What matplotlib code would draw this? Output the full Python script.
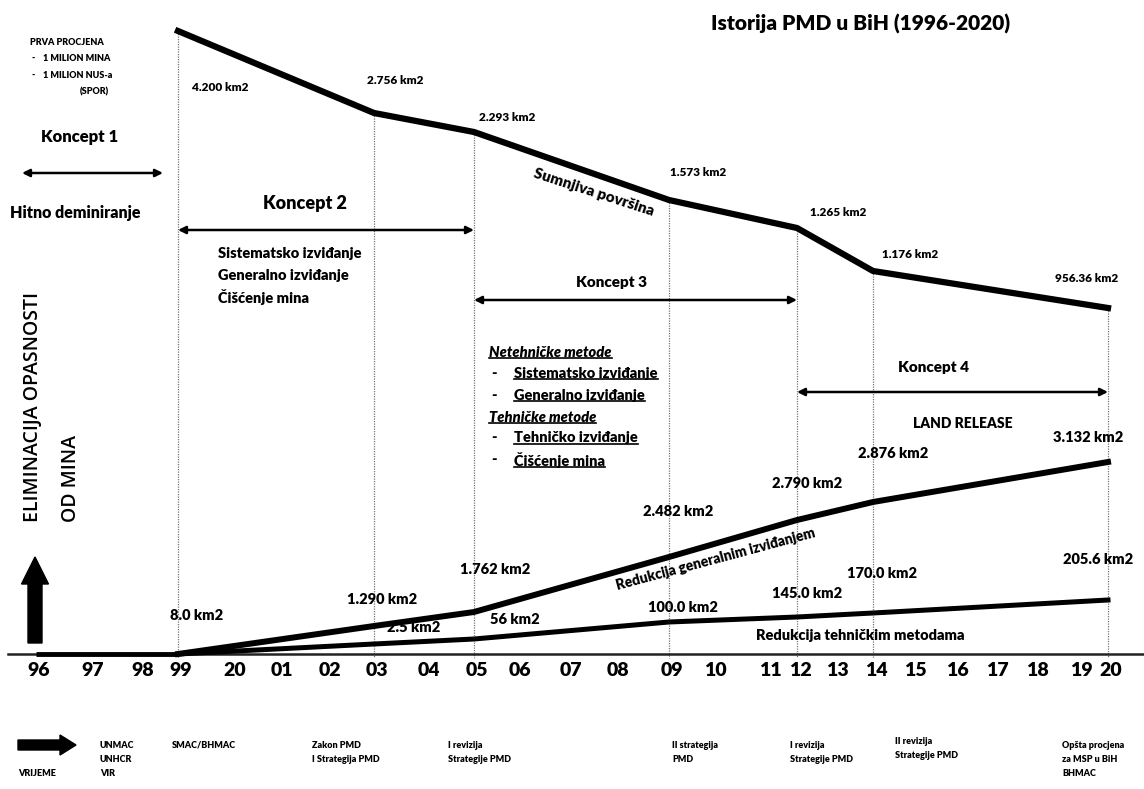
import matplotlib
matplotlib.use('Agg')
import matplotlib.pyplot as plt

plt.rcParams['font.family'] = ['Lato', 'DejaVu Sans']
BW = 'heavy'

# ---------------- data ----------------
years = list(range(1996, 2021))
tick_labels = ['96', '97', '98', '99', '20', '01', '02', '03', '04', '05', '06', '07', '08',
               '09', '10', '11', '12', '13', '14', '15', '16', '17', '18', '19', '20']
milestone_years = [1999, 2003, 2005, 2009, 2012, 2014, 2020]

# diagram levels (height above the baseline)
suspect_level = [623, 541, 522, 454, 426, 383, 346]
general_level = [0, 28, 42, 97, 134, 152, 192]
technical_level = [0, 10, 15, 32, 37, 41, 54]
early_years = [1996, 1997, 1998, 1999]
early_level = [0, 0, 0, 0]

suspect_text = ['4.200 km2', '2.756 km2', '2.293 km2', '1.573 km2', '1.265 km2', '1.176 km2', '956.36 km2']
general_text = ['8.0 km2', '1.290 km2', '1.762 km2', '2.482 km2', '2.790 km2', '2.876 km2', '3.132 km2']
technical_text = ['', '2.5 km2', '56 km2', '100.0 km2', '145.0 km2', '170.0 km2', '205.6 km2']

concepts = ['Koncept 1', 'Koncept 2', 'Koncept 3', 'Koncept 4']
bottom_events = [
    ['UNMAC', 'UNHCR', 'VIR'],
    ['SMAC/BHMAC'],
    ['Zakon PMD', 'I Strategija PMD'],
    ['I revizija', 'Strategije PMD'],
    ['II strategija', 'PMD'],
    ['I revizija', 'Strategije PMD'],
    ['II revizija', 'Strategije PMD'],
    ['Opšta procjena', 'za MSP u BiH', 'BHMAC'],
]

# ---------------- layout ----------------
W, H = 1144, 789
BASE = 654
year_x = [36, 90, 140, 178, 232, 279, 327, 374, 426, 474, 517, 568, 615,
          669, 712, 767, 797, 834, 873, 912, 954, 994, 1034, 1078, 1108]
X = dict(zip(years, year_x))


def Y(ypx):
    return BASE - ypx


fig = plt.figure(figsize=(W / 100, H / 100), dpi=100)
ax = fig.add_axes([0, 0, 1, 1])
ax.set_xlim(0, W)
ax.set_ylim(BASE - H, BASE)
ax.axis('off')

mx = [X[y] for y in milestone_years]

# baseline
ax.plot([8, W], [0, 0], color='#222222', lw=1.8, zorder=2)
ax.plot([X[y] for y in early_years], early_level, color='black', lw=3.5,
        solid_capstyle='butt', zorder=4)

# vertical dotted guides
for x, lv in zip(mx, suspect_level):
    ax.plot([x, x], [lv, -4], color='#777777', lw=0.9, ls=(0, (1, 1)), zorder=1)

# series
ax.plot(mx, suspect_level, color='black', lw=4.5, solid_joinstyle='round', zorder=5)
ax.plot(mx, general_level, color='black', lw=4.3, solid_joinstyle='round', zorder=5)
ax.plot(mx, technical_level, color='black', lw=3.6, solid_joinstyle='round', zorder=5)

# ticks
for x, t in zip(year_x, tick_labels):
    ax.text(x + 3, Y(670), t, ha='center', va='center', fontsize=14, fontweight=BW)

# value labels
sus_pos = [(192, 87), (367, 80), (479, 117), (670, 172), (810, 213), (882, 254), (1055, 278)]
for (px, py), t in zip(sus_pos, suspect_text):
    ax.text(px, Y(py), t, ha='left', va='center', fontsize=8.5, fontweight=BW)
gen_pos = [(170, 616), (347, 600), (460, 570), (643, 512), (772, 483), (858, 453), (1053, 437)]
for (px, py), t in zip(gen_pos, general_text):
    ax.text(px, Y(py), t, ha='left', va='center', fontsize=10.5, fontweight=BW)
tech_pos = [(0, 0), (387, 628), (490, 620), (648, 607), (772, 593), (847, 573), (1063, 560)]
for (px, py), t in zip(tech_pos, technical_text):
    if t:
        ax.text(px, Y(py), t, ha='left', va='center', fontsize=10.5, fontweight=BW, zorder=3)

# series names along lines
ax.text(594, Y(192), 'Sumnjiva površina', rotation=-18, ha='center', va='center',
        fontsize=11, fontweight=BW)
ax.text(716, Y(559), 'Redukcija generalnim izviđanjem', rotation=15, ha='center', va='center',
        fontsize=10, fontweight=BW)
ax.text(860, Y(635), 'Redukcija tehničkim metodama', ha='center', va='center',
        fontsize=10.5, fontweight=BW)

# title
ax.text(861, Y(24), 'Istorija PMD u BiH (1996-2020)', ha='center', va='center',
        fontsize=15, fontweight=BW)

# top-left note
ax.text(30, Y(42), 'PRVA PROCJENA', fontsize=6.5, fontweight=BW, va='center')
ax.text(31, Y(58), '-', fontsize=6.5, fontweight=BW, va='center')
ax.text(43, Y(58), '1 MILION MINA', fontsize=6.5, fontweight=BW, va='center')
ax.text(31, Y(75), '-', fontsize=6.5, fontweight=BW, va='center')
ax.text(43, Y(75), '1 MILION NUS-a', fontsize=6.5, fontweight=BW, va='center')
ax.text(80, Y(92), '(SPOR)', fontsize=6.5, fontweight=BW, va='center')


# concept arrows
def darrow(x1, x2, ypx):
    ax.annotate('', xy=(x2, Y(ypx)), xytext=(x1, Y(ypx)),
                arrowprops=dict(arrowstyle='<|-|>', lw=1.8, color='black',
                                mutation_scale=11, shrinkA=0, shrinkB=0))


darrow(X[1996] - 14, X[1999] - 15, 173)
ax.text(80, Y(137), concepts[0], ha='center', va='center', fontsize=12, fontweight=BW)
ax.text(10, Y(213), 'Hitno deminiranje', ha='left', va='center', fontsize=11.5, fontweight=BW)

darrow(X[1999], X[2005], 230)
ax.text(305, Y(203), concepts[1], ha='center', va='center', fontsize=13, fontweight=BW)
for i, t in enumerate(['Sistematsko izviđanje', 'Generalno izviđanje', 'Čišćenje mina']):
    ax.text(218, Y(253 + 22 * i), t, ha='left', va='center', fontsize=10.5, fontweight=BW)

darrow(X[2005], X[2012], 300)
ax.text(612, Y(282), concepts[2], ha='center', va='center', fontsize=11, fontweight=BW)

darrow(X[2012], X[2020], 392)
ax.text(934, Y(367), concepts[3], ha='center', va='center', fontsize=11, fontweight=BW)
ax.text(963, Y(424), 'LAND RELEASE', ha='center', va='center', fontsize=10, fontweight=BW)

# methods block (underlined)
underlined = []
items = [
    (489, 352, 'Netehničke metode', 'italic'),
    (514, 373, 'Sistematsko izviđanje', 'normal'),
    (514, 395, 'Generalno izviđanje', 'normal'),
    (489, 417, 'Tehničke metode', 'italic'),
    (514, 438, 'Tehničko izviđanje', 'normal'),
    (514, 460, 'Čišćenje mina', 'normal'),
]
for px, py, t, st in items:
    tx = ax.text(px, Y(py), t, ha='left', va='center', fontsize=10.5,
                 fontweight=BW, fontstyle=st)
    underlined.append(tx)
    if st == 'normal':
        ax.text(491, Y(py), '-', ha='left', va='center', fontsize=10.5, fontweight=BW)

# left vertical caption + arrow
ax.text(33, Y(522), 'ELIMINACIJA OPASNOSTI', rotation=90, ha='center', va='bottom',
        fontsize=14, fontweight='semibold', family=['Open Sans', 'DejaVu Sans'])
ax.text(71, Y(522), 'OD MINA', rotation=90, ha='center', va='bottom',
        fontsize=14, fontweight='semibold', family=['Open Sans', 'DejaVu Sans'])
ax.arrow(35, Y(643), 0, 86, width=14, head_width=27, head_length=27,
         length_includes_head=True, color='black')

# bottom timeline
ax.arrow(18, Y(745), 58, 0, width=10, head_width=20, head_length=16,
         length_includes_head=True, color='black')
ax.text(18, Y(773), 'VRIJEME', fontsize=6.5, fontweight=BW, va='center')
ev_pos = [(100, 745), (172, 745), (312, 745), (448, 745), (672, 745), (790, 745), (895, 741), (1062, 745)]
for (px, py), lines in zip(ev_pos, bottom_events):
    for i, t in enumerate(lines):
        ax.text(px, Y(py + 14 * i), t, fontsize=6.5, fontweight=BW, va='center')

# draw underlines
fig.canvas.draw()
r = fig.canvas.get_renderer()
inv = ax.transData.inverted()
for tx in underlined:
    bb = tx.get_window_extent(r)
    (x0, y0), (x1, y1) = inv.transform([(bb.x0, bb.y0), (bb.x1, bb.y1)])
    ax.plot([x0, x1], [y0 + 1, y0 + 1], color='black', lw=1.2)

fig.savefig('out.png', dpi=100)
